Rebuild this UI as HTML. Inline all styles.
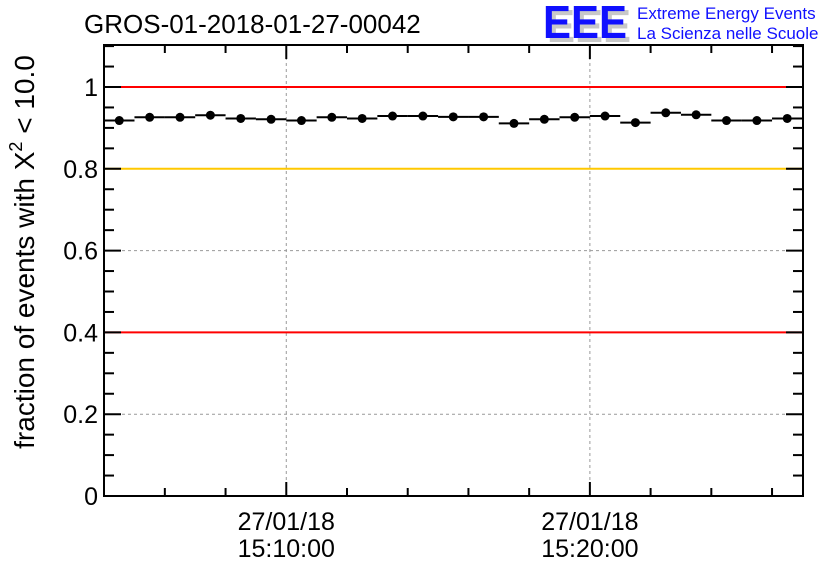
<!DOCTYPE html>
<html><head><meta charset="utf-8"><style>
html,body{margin:0;padding:0;background:#fff;}
svg{display:block;font-family:"Liberation Sans",sans-serif;}
</style></head><body>
<svg id="chart" width="836" height="572" viewBox="0 0 836 572">
<rect x="0" y="0" width="836" height="572" fill="#fff"/>
<text x="84" y="33" font-size="26" fill="#000">GROS-01-2018-01-27-00042</text>
<g>
<text x="547" y="42" font-size="46" font-weight="bold" fill="#c8c8c8" textLength="84" lengthAdjust="spacingAndGlyphs">EEE</text>
<text x="543" y="38" font-size="46" font-weight="bold" fill="#1010ff" textLength="84" lengthAdjust="spacingAndGlyphs">EEE</text>
<text x="637" y="19" font-size="17" fill="#1010ff">Extreme Energy Events</text>
<text x="637" y="39" font-size="17" fill="#1010ff">La Scienza nelle Scuole</text>
</g>
<text transform="translate(34,252) rotate(-90)" text-anchor="middle" font-size="28" fill="#000">fraction of events with X<tspan font-size="18" dy="-12">2</tspan><tspan dy="12"> &lt; 10.0</tspan></text>
<g id="grid"></g>
<g id="axes"></g>
<g id="marks"></g>
</svg>
<script>
const binMinutes = [0,1,2,3,4,5,6,7,8,9,10,11,12,13,14,15,16,17,18,19,20,21,22];
const fractions = [0.918,0.926,0.926,0.931,0.923,0.921,0.918,0.926,0.923,0.929,0.929,0.927,0.927,0.911,0.921,0.926,0.929,0.913,0.937,0.932,0.918,0.918,0.923];
const yTicks = [0,0.2,0.4,0.6,0.8,1];
const yTickLabels = ["0","0.2","0.4","0.6","0.8","1"];
const xMajorMinutes = [5.5,15.5];
const xMajorLabels = [["27/01/18","15:10:00"],["27/01/18","15:20:00"]];
const refLines = [[1,"#ff0000"],[0.8,"#ffc800"],[0.4,"#ff0000"]];

const L=104,R=803,T=45,B=496;
const ns="http://www.w3.org/2000/svg";
function ys(v){return B-v*409;}
function xs(m){return 119.3+m*30.36;}
function mk(tag,attrs,parent){const e=document.createElementNS(ns,tag);for(const k in attrs)e.setAttribute(k,attrs[k]);parent.appendChild(e);return e;}
const grid=document.getElementById('grid'),axes=document.getElementById('axes'),marks=document.getElementById('marks');

[0.2,0.6].forEach(v=>{const l=mk('line',{x1:L,x2:R,y1:ys(v),y2:ys(v),stroke:'#999','stroke-dasharray':'3,3','stroke-width':1},grid);

});
xMajorMinutes.forEach(m=>{const l=mk('line',{x1:xs(m),x2:xs(m),y1:T,y2:B,stroke:'#999','stroke-dasharray':'3,3','stroke-width':1},grid);

});
refLines.forEach(r=>{const l=mk('line',{x1:L,x2:R,y1:ys(r[0]),y2:ys(r[0]),stroke:r[1],'stroke-width':2},grid);

});

const frame=mk('rect',{x:L,y:T,width:R-L,height:B-T,fill:'none',stroke:'#000','stroke-width':2},axes);



for(let i=0;i<=22;i++){const v=i*0.05;const maj=(i%4===0);const len=maj?17:10;const y=ys(v);
 mk('line',{x1:L,x2:L+len,y1:y,y2:y,stroke:'#000','stroke-width':2},axes);
 mk('line',{x1:R,x2:R-len,y1:y,y2:y,stroke:'#000','stroke-width':2},axes);}
yTicks.forEach((v,i)=>{const t=mk('text',{x:L-6,y:ys(v)+9,'text-anchor':'end','font-size':25},axes);t.textContent=yTickLabels[i];

});

for(let m=-0.5;m<=22.5;m+=2){const x=xs(m);if(x<L+2||x>R-2)continue;const maj=xMajorMinutes.some(a=>Math.abs(a-m)<0.01);const len=maj?14:8;
 mk('line',{x1:x,x2:x,y1:B,y2:B-len,stroke:'#000','stroke-width':2},axes);
 mk('line',{x1:x,x2:x,y1:T,y2:T+len,stroke:'#000','stroke-width':2},axes);}
xMajorMinutes.forEach((m,i)=>{xMajorLabels[i].forEach((s,j)=>{const t=mk('text',{x:xs(m),y:530+j*27,'text-anchor':'middle','font-size':25},axes);t.textContent=s;

});});

binMinutes.forEach((m,i)=>{const x=xs(m),y=ys(fractions[i]);
 const g=mk('g',{},marks);
 
 
 mk('line',{x1:x-15.2,x2:x+15.2,y1:y,y2:y,stroke:'#000','stroke-width':2},g);
 mk('circle',{cx:x,cy:y,r:4.5,fill:'#000'},g);});
</script>
</body></html>
